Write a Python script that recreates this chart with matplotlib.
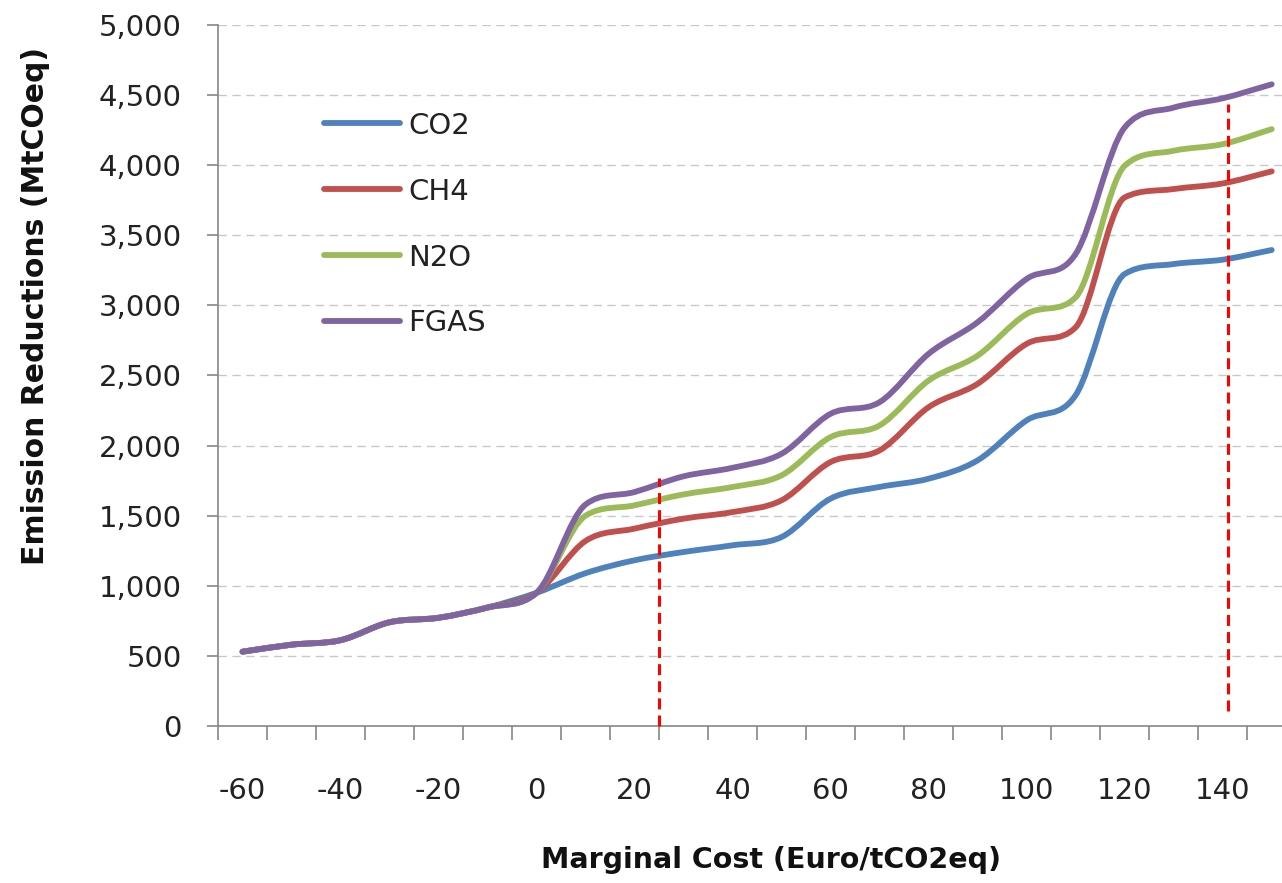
import numpy as np
import matplotlib
matplotlib.use("Agg")
import matplotlib.pyplot as plt
from matplotlib.path import Path
from matplotlib.patches import PathPatch
from matplotlib.lines import Line2D
from matplotlib.ticker import FuncFormatter

plt.rcParams["axes.unicode_minus"] = False

# marginal cost categories (Euro/tCO2eq)
cost = [-60, -50, -40, -30, -20, -10, 0, 10, 20, 30, 40, 50,
        60, 70, 80, 90, 100, 110, 120, 130, 140, 150]

# cumulative emission reductions (MtCOeq)
co2 = [530, 580, 612, 740, 772, 845, 950, 1090, 1182, 1241, 1289, 1348,
       1622, 1705, 1764, 1895, 2180, 2360, 3224, 3295, 3326, 3395]
ch4 = [530, 580, 612, 740, 772, 845, 950, 1320, 1408, 1479, 1526, 1610,
       1883, 1966, 2274, 2441, 2726, 2844, 3770, 3830, 3870, 3956]
n2o = [530, 580, 612, 740, 772, 845, 950, 1500, 1574, 1652, 1705, 1788,
       2061, 2144, 2464, 2642, 2939, 3058, 3996, 4103, 4150, 4257]
fgas = [530, 580, 612, 740, 772, 845, 950, 1580, 1669, 1781, 1842, 1942,
        2227, 2310, 2655, 2880, 3189, 3367, 4269, 4411, 4477, 4577]

series = [("CO2", co2, "#4F81BD"),
          ("CH4", ch4, "#C0504D"),
          ("N2O", n2o, "#9BBB59"),
          ("FGAS", fgas, "#8064A2")]

# red dashed reference lines: x position, bottom, top
ref_x = [25, 141]
ref_bottom = [0, 110]
ref_top = [1766, 4440]

x_labels = [-60, -40, -20, 0, 20, 40, 60, 80, 100, 120, 140]


def smooth_path(xs, ys):
    # smoothed line through the points (Catmull-Rom tangents, limited
    # so the curve never bends back between two points)
    x = np.asarray(xs, float)
    y = np.asarray(ys, float)
    h = np.diff(x)
    d = np.diff(y) / h
    m = np.zeros_like(y)
    m[0], m[-1] = d[0], d[-1]
    for i in range(1, len(y) - 1):
        if d[i - 1] * d[i] > 0:
            cr = (y[i + 1] - y[i - 1]) / (x[i + 1] - x[i - 1])
            lim = 3 * min(abs(d[i - 1]), abs(d[i]))
            m[i] = np.sign(cr) * min(abs(cr), lim)
    verts = [(x[0], y[0])]
    codes = [Path.MOVETO]
    for i in range(len(x) - 1):
        verts.append((x[i] + h[i] / 3, y[i] + m[i] * h[i] / 3))
        verts.append((x[i + 1] - h[i] / 3, y[i + 1] - m[i + 1] * h[i] / 3))
        verts.append((x[i + 1], y[i + 1]))
        codes += [Path.CURVE4] * 3
    return Path(verts, codes)


fig = plt.figure(figsize=(12.82, 8.83), dpi=100)
ax = fig.add_axes([218 / 1282, 157 / 883, 1 - 218 / 1282, 701 / 883])

ax.set_xlim(-65, 152.1)
ax.set_ylim(0, 5000)

ax.set_yticks(np.arange(0, 5001, 500))
ax.yaxis.set_major_formatter(FuncFormatter(lambda v, p: f"{int(v):,}"))
ax.grid(axis="y", color="#C8C8C8", linestyle=(0, (6, 4)), linewidth=1.0)
ax.set_axisbelow(True)

ax.set_xticks(x_labels)
ax.set_xticks(np.arange(-65, 150, 10), minor=True)
ax.tick_params(axis="x", which="major", length=0, pad=37,
               labelsize=21, labelcolor="#222222")
ax.tick_params(axis="x", which="minor", length=10, width=1.2,
               direction="out", color="#868686")
ax.tick_params(axis="y", which="major", length=8, width=1.2,
               direction="out", color="#868686", pad=18,
               labelsize=21, labelcolor="#222222")

for s in ["top", "right"]:
    ax.spines[s].set_visible(False)
for s in ["left", "bottom"]:
    ax.spines[s].set_color("#868686")
    ax.spines[s].set_linewidth(1.2)

for name, vals, col in series:
    patch = PathPatch(smooth_path(cost, vals), facecolor="none",
                      edgecolor=col, linewidth=4.2, capstyle="round",
                      joinstyle="round", zorder=3)
    ax.add_patch(patch)

for xr, yb, yt in zip(ref_x, ref_bottom, ref_top):
    ax.plot([xr, xr], [yb, yt], color="#FF0000", linewidth=2.2,
            linestyle=(0, (3.6, 2.0)), zorder=4, clip_on=False)

handles = [Line2D([], [], color=col, linewidth=4.2, solid_capstyle="round")
           for name, vals, col in series]
leg = ax.legend(handles, [s[0] for s in series], loc="upper left",
                bbox_to_anchor=((312 - 218) / 1064, (883 - 100 - 157) / 701),
                frameon=False, fontsize=21, handlelength=2.6,
                handletextpad=0.3, labelspacing=1.3, borderaxespad=0)
for t in leg.get_texts():
    t.set_color("#222222")

fig.text(36 / 1282, 1 - 306 / 883, "Emission Reductions (MtCOeq)",
         rotation=90, ha="center", va="center", fontsize=21.5,
         fontweight="bold", color="#111111")
fig.text(771 / 1282, 1 - 860 / 883, "Marginal Cost (Euro/tCO2eq)",
         ha="center", va="center", fontsize=20.5, fontweight="bold",
         color="#111111")

fig.savefig("out.png", dpi=100)
